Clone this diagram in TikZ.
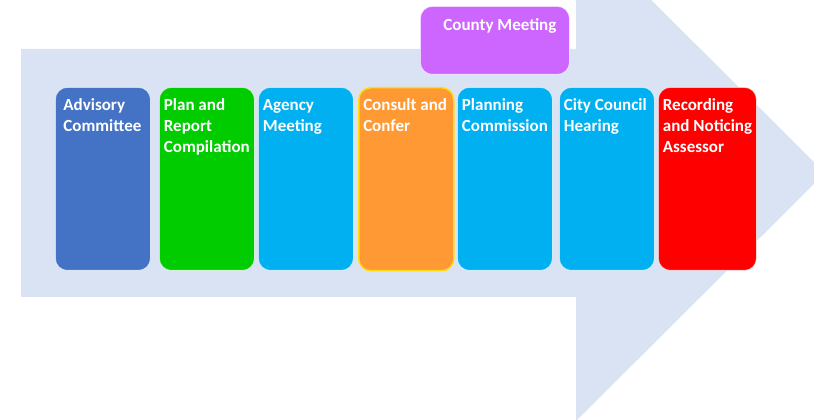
\documentclass[tikz,border=0pt]{standalone}
\usepackage{fontspec}
\newfontfamily\stagefont{Carlito}
\definecolor{arrowbg}{RGB}{218,227,243}
\definecolor{advblue}{RGB}{68,114,196}
\definecolor{plangreen}{RGB}{0,204,0}
\definecolor{skyblue}{RGB}{0,176,240}
\definecolor{consultorange}{RGB}{255,153,51}
\definecolor{confergold}{RGB}{255,220,20}
\definecolor{recordred}{RGB}{255,0,0}
\definecolor{countypurple}{RGB}{204,102,255}
\newcommand{\stagelabel}[2][86pt]{\parbox[c][183pt][t]{#1}{\raggedright\rule{0pt}{23pt}#2}}
\begin{document}
\begin{tikzpicture}[x=1pt,y=1pt,line join=round]
\tikzset{stage/.style={rounded corners=12pt,draw=white,draw opacity=0.6,line width=0.8pt,inner xsep=4.5pt,inner ysep=0pt,anchor=north west,text=white,font=\stagefont\bfseries\fontsize{17pt}{21pt}\selectfont}}
\useasboundingbox (0,0) rectangle (814,420);
% big process arrow
\begin{scope}
\clip (0,0) rectangle (814,420);
\fill[arrowbg] (21,371)--(576,371)--(576,495)--(825,247)--(576,-1)--(576,123)--(21,123)--cycle;
\end{scope}
% stages
\node[stage,fill=advblue] (advisory) at (55,333) {\stagelabel{\hspace*{3.5pt}Advisory\\\hspace*{3.5pt}Committee}};
\node[stage,fill=plangreen] (plan) at (159,333) {\stagelabel{Plan and\\Report\\Compilation}};
\node[stage,fill=skyblue] (agency) at (258,333) {\stagelabel{Agency\\Meeting}};
\node[stage,fill=consultorange,draw=confergold,draw opacity=1,line width=1.5pt] (consult) at (358,333) {\stagelabel{Consult and\\Confer}};
\node[stage,fill=skyblue] (planning) at (457,333) {\stagelabel{Planning\\Commission}};
\node[stage,fill=skyblue] (council) at (559,333) {\stagelabel{City Council\\Hearing}};
\node[stage,fill=recordred] (recording) at (658,333) {\stagelabel[89pt]{Recording\\\mbox{and Noticing}\\Assessor}};
\node[stage,fill=countypurple] (county) at (420,414) {\parbox[c][68pt][t]{140pt}{\centering\hspace*{10pt}\rule{0pt}{24pt}County Meeting}};
\end{tikzpicture}
\end{document}
